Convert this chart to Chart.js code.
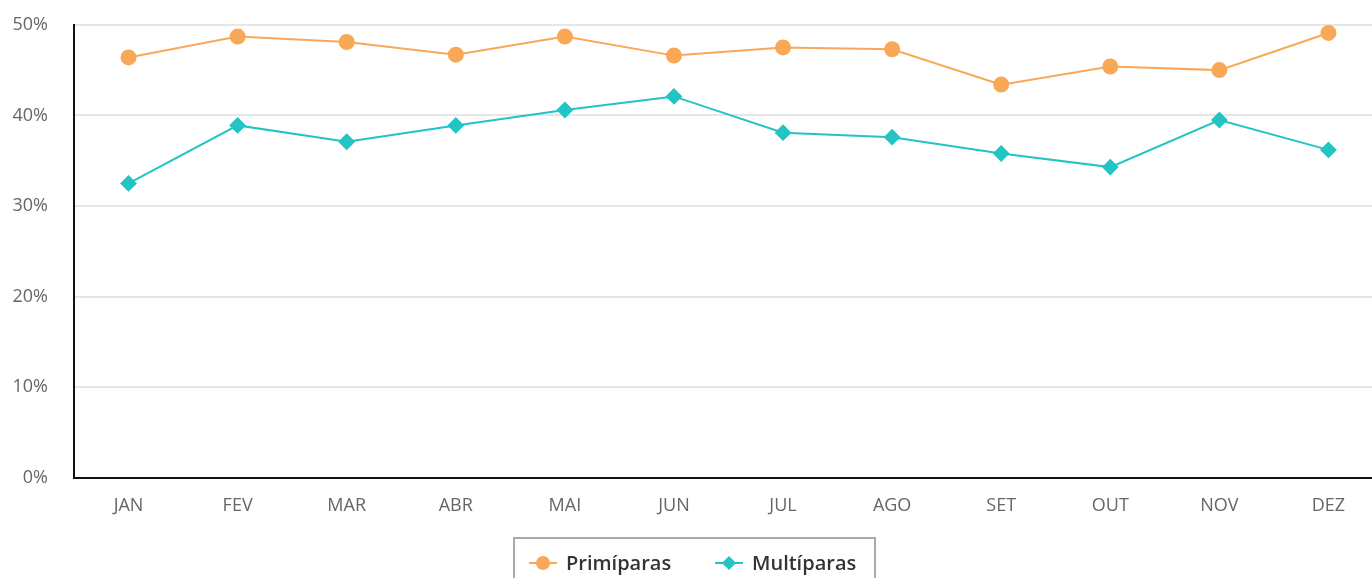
<!DOCTYPE html>
<html><head><meta charset="utf-8">
<script src="https://cdn.jsdelivr.net/npm/chart.js@4"></script>
<style>
html,body{margin:0;padding:0;background:#fff;overflow:hidden;width:1372px;height:578px;}
#wrap{position:relative;width:1392px;height:578px;}
#c{position:absolute;left:0;top:-12px;}
#legend{position:absolute;left:513px;top:537px;width:363px;height:60px;border:2px solid #aaa;box-sizing:border-box;font-family:"Open Sans",sans-serif;font-weight:600;font-size:20px;color:#333;}
.item{position:absolute;top:10px;display:flex;align-items:center;}
.ico{position:relative;width:28px;height:14px;margin-right:9px;}
.ico .ln{position:absolute;left:0;top:6px;width:28px;height:2px;}
.ico .dot{position:absolute;left:7px;top:0;width:14px;height:14px;border-radius:50%;}
.ico .dia{position:absolute;left:9px;top:2px;width:10px;height:10px;transform:rotate(45deg);}
</style></head><body>
<div id="wrap"><canvas id="c" width="1392" height="590"></canvas>
<div id="legend">
 <div class="item" style="left:14px"><div class="ico"><div class="ln" style="background:#f9a857"></div><div class="dot" style="background:#f9a857"></div></div><span>Primíparas</span></div>
 <div class="item" style="left:200px"><div class="ico"><div class="ln" style="background:#22c4c4"></div><div class="dia" style="background:#22c4c4"></div></div><span>Multíparas</span></div>
</div></div>
<script>
const categories = ["JAN","FEV","MAR","ABR","MAI","JUN","JUL","AGO","SET","OUT","NOV","DEZ"];
const primiparas = [46.4,48.7,48.1,46.7,48.7,46.6,47.5,47.3,43.4,45.4,45.0,49.1];
const multiparas = [32.5,38.9,37.1,38.9,40.6,42.1,38.1,37.6,35.8,34.3,39.5,36.2];
const yTicks = [0,10,20,30,40,50];
const font = {family:"'Open Sans', sans-serif", size:18};
new Chart(document.getElementById('c'), {
  type:'line',
  data:{labels:categories, datasets:[
    {label:'Primíparas', data:primiparas, borderColor:'#f9a857', backgroundColor:'#f9a857', borderWidth:2, pointStyle:'circle', pointRadius:7, pointHoverRadius:7, tension:0},
    {label:'Multíparas', data:multiparas, borderColor:'#22c4c4', backgroundColor:'#22c4c4', borderWidth:2, pointStyle:'rectRot', pointRadius:7, pointHoverRadius:7, tension:0}
  ]},
  options:{
    responsive:false, animation:false,
    layout:{padding:{top:2,bottom:50,right:0,left:0}},
    plugins:{legend:{display:false}, tooltip:{enabled:false}},
    scales:{
      x:{offset:true, grid:{display:false, drawTicks:false}, border:{color:'#111', width:2},
         ticks:{color:'#666', font:font, padding:17, maxRotation:0},
         afterFit(s){s.height=50;}},
      y:{min:0,max:50, grid:{color:'#e6e6e6', lineWidth:2, drawTicks:false}, border:{color:'#111', width:2},
         afterBuildTicks(s){s.ticks=yTicks.map(v=>({value:v}));},
         ticks:{color:'#666', font:font, padding:26, callback:v=>v+'%'},
         afterFit(s){s.width=74;}}
    }
  }
});
</script></body></html>
